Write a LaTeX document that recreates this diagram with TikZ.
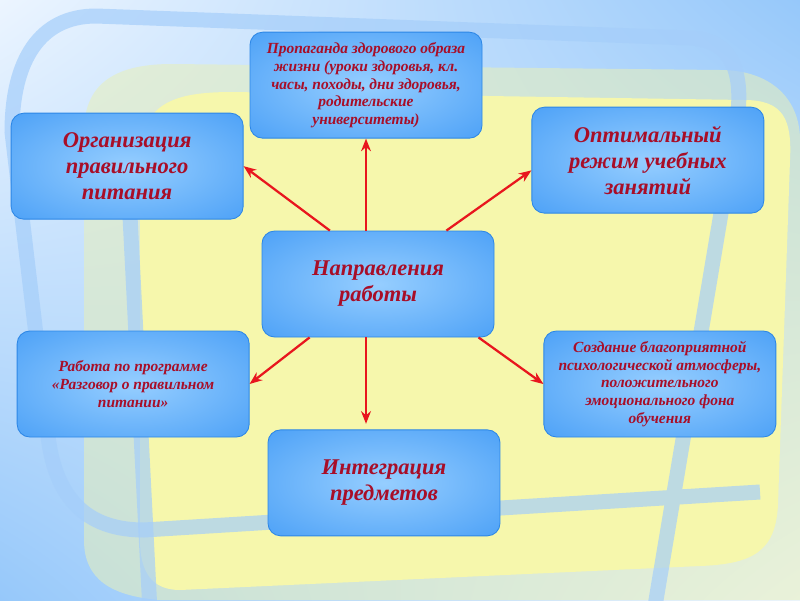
\documentclass[tikz,border=0pt]{standalone}
\usepackage{fontspec}
\setmainfont{Liberation Serif}
\usetikzlibrary{arrows.meta, positioning, shadings}

\definecolor{bglight}{RGB}{236,245,255}
\definecolor{bgblue}{RGB}{150,200,250}
\definecolor{ylw}{RGB}{246,247,172}
\definecolor{ylwpale}{RGB}{232,240,186}
\definecolor{bandblue}{RGB}{165,206,250}
\definecolor{boxin}{RGB}{150,206,255}
\definecolor{boxout}{RGB}{52,146,244}
\definecolor{boxline}{RGB}{45,135,230}
\definecolor{txtred}{RGB}{168,14,40}
\definecolor{arrred}{RGB}{232,22,30}

\pgfdeclareradialshading{boxshade}{\pgfpoint{0bp}{0bp}}%
  {color(0bp)=(boxin); color(48bp)=(boxout); color(72bp)=(boxout)}

\begin{document}
\begin{tikzpicture}[
    box/.style      = {rectangle, draw=boxline, line width=0.6pt, rounded corners=9pt,
                       minimum width=5.8cm, minimum height=2.65cm, inner sep=2pt,
                       shade, shading=boxshade,
                       text=txtred, align=center,
                       font=\bfseries\itshape\fontsize{16}{18.5}\selectfont},
    smalltxt/.style = {font=\bfseries\itshape\fontsize{11}{12.7}\selectfont},
    arrow/.style    = {-{Stealth[length=9pt, width=7pt]}, line width=1.6pt, arrred},
    deco/.style     = {bandblue, line width=0.375cm, opacity=0.7}
]

%% -- Background ----------------------------------------------
\useasboundingbox (0,0) rectangle (20,-15);
\shade[upper left=bglight, upper right=bgblue, lower left=bgblue, lower right=bglight]
    (0,0) rectangle (20,-15);
\fill[ylwpale, opacity=0.55] (2.1,-13.5) -- (2.1,-3.3)
    .. controls (2.1,-2.0) and (3.0,-1.6) .. (4.3,-1.6) -- (18.0,-1.75)
    .. controls (19.3,-1.75) and (20,-2.5) .. (20,-3.5) -- (20,-15) -- (4.0,-15)
    .. controls (2.8,-14.9) and (2.1,-14.5) .. (2.1,-13.5) -- cycle;
\fill[ylw] (3.5,-13.5) -- (3.5,-4.0)
    .. controls (3.5,-2.6) and (4.3,-2.3) .. (5.8,-2.3) -- (18.6,-2.5)
    .. controls (19.6,-2.5) and (19.8,-3.0) .. (19.75,-4.0) -- (19.45,-12.6)
    .. controls (19.4,-13.8) and (18.8,-14.1) .. (17.5,-14.15) -- (4.5,-14.75)
    .. controls (3.8,-14.75) and (3.5,-14.3) .. (3.5,-13.5) -- cycle;
\draw[deco] (16.35,-15.3) -- (18.45,-2.8)
    .. controls (18.55,-1.8) and (18.3,-1.0) .. (17.25,-0.95) -- (2.4,-0.4)
    .. controls (1.0,-0.4) and (0.3,-1.5) .. (0.3,-3.3) -- (1.2,-10.9)
    .. controls (1.4,-12.6) and (2.3,-13.25) .. (3.6,-13.25) -- (19.0,-12.3);
\draw[deco] (3.25,-5.4) -- (3.75,-15.3);

%% -- Boxes -----------------------------------------------------
\node[box] (dir) at (9.45,-7.1) {Направления\\работы};
\node[box, smalltxt, above=2.3cm of dir, xshift=-0.3cm] (prop)
    {Пропаганда здорового образа\\жизни (уроки здоровья, кл.\\часы, походы, дни здоровья,\\родительские\\университеты)};
\node[box, above left=0.275cm and 0.45cm of dir]  (org)   {Организация\\правильного\\питания};
\node[box, above right=0.425cm and 0.925cm of dir] (optim) {Оптимальный\\режим учебных\\занятий};
\node[box, smalltxt, below=2.775cm of org, xshift=0.15cm] (prog)
    {Работа по программе\\«Разговор о правильном\\питании»};
\node[box, smalltxt, below=2.925cm of optim, xshift=0.3cm] (atmo)
    {Создание благоприятной\\психологической атмосферы,\\положительного\\эмоционального фона\\обучения};
\node[box, below=2.3cm of dir, xshift=0.15cm] (integ) {Интеграция\\предметов};

%% -- Arrows ----------------------------------------------------
\draw[arrow] (dir.north -| prop.south) -- (prop.south);
\draw[arrow, shorten >=4pt] (dir.south -| prop.south) -- (integ.north -| prop.south);
\draw[arrow] (dir.132) -- (org.east);
\draw[arrow] (dir.38)  -- (optim.185);
\draw[arrow] (dir.218) -- (prog.east);
\draw[arrow] (dir.332) -- (atmo.west);

\end{tikzpicture}
\end{document}
